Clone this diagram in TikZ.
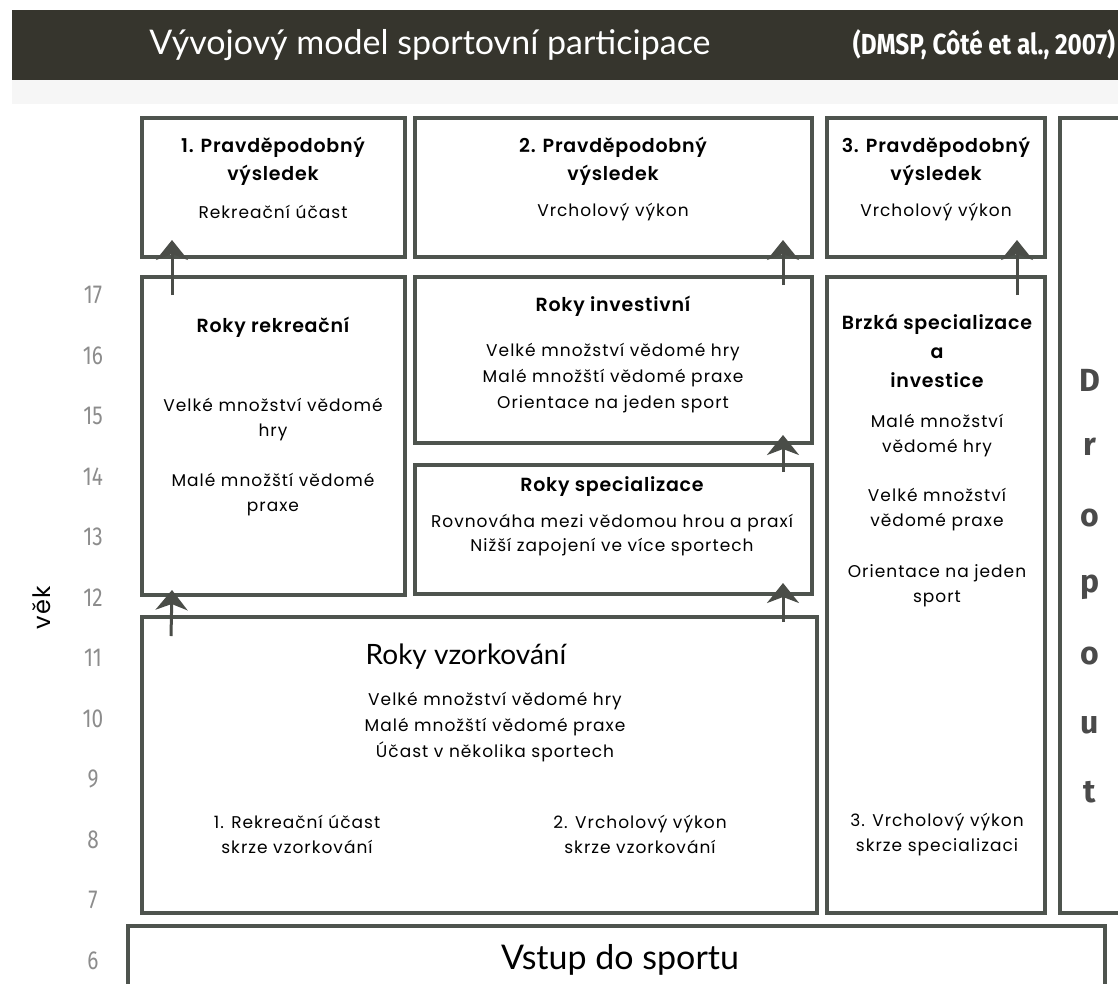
\documentclass[tikz,border=0pt]{standalone}
\usepackage{fontspec}
\setmainfont{Poppins}[LetterSpace=6]
\IfFontExistsTF{Poppins SemiBold}
  {\newfontfamily\pophead{Poppins SemiBold}[LetterSpace=4]}
  {\IfFontExistsTF{Poppins Medium}
     {\newfontfamily\pophead{Poppins Medium}[LetterSpace=5]}
     {\newfontfamily\pophead{Poppins}[LetterSpace=3,UprightFont=*-Bold]}}
\newfontfamily\lat{Lato}
\newfontfamily\fira{Fira Sans}
\usetikzlibrary{arrows.meta}
\definecolor{barc}{HTML}{36352D}
\definecolor{edgec}{HTML}{4E544E}
\definecolor{arrc}{HTML}{4A4D48}
\definecolor{agec}{HTML}{8C8C8C}
\definecolor{dropc}{HTML}{4A4A4A}
\begin{document}
\begin{tikzpicture}[x=1pt,y=-1pt,
  box/.style={draw=edgec,line width=3.5pt,inner sep=0pt,outer sep=0pt,fill=white},
  head/.style={inner sep=0pt,align=center,font=\pophead\fontsize{19}{28}\selectfont},
  body/.style={inner sep=0pt,align=center,font=\fontsize{17}{25}\selectfont},
  thin/.style={inner sep=0pt,align=center,font=\lat\fontsize{28}{34}\selectfont},
  age/.style={inner sep=0pt,text=agec,font=\fira\fontsize{26}{26}\selectfont},
  droptxt/.style={inner sep=0pt,text=dropc,font=\fira\bfseries\fontsize{32}{32}\selectfont},
  arr/.style={draw=arrc,line width=3pt,-{Stealth[length=20pt,width=32pt,inset=6pt]}}]
\useasboundingbox (0,0) rectangle (1118,983);
% header
\fill[gray!7] (12,80) rectangle (1118,104);
\node[fill=barc,inner sep=0pt,outer sep=0pt,minimum width=1110pt,minimum height=70pt] (bar) at (567,45) {};
\node[inner sep=0pt,text=white,font=\lat\fontsize{34}{34}\selectfont] (title) at (430,45) {Vývojový model sportovní participace};
\node[inner sep=0pt,text=white,font=\fira\bfseries\fontsize{29}{29}\selectfont] (cite) at (984,45) {\scalebox{0.84}[1]{(DMSP, Côté et al., 2007)}};
% boxes
\node[box,minimum width=263pt,minimum height=139pt] (r1) at (273.5,187.5) {};
\node[box,minimum width=397pt,minimum height=139pt] (r2) at (613.5,187.5) {};
\node[box,minimum width=218pt,minimum height=139pt] (r3) at (936,187.5) {};
\node[box,minimum width=62pt,minimum height=795pt] (drop) at (1091,515.5) {};
\node[box,minimum width=263pt,minimum height=318pt] (rek) at (273.5,436) {};
\node[box,minimum width=397pt,minimum height=166pt] (inv) at (613.5,360) {};
\node[box,minimum width=397pt,minimum height=129pt] (spe) at (613.5,529.5) {};
\node[box,minimum width=218pt,minimum height=636pt] (brz) at (936,595) {};
\node[box,minimum width=675pt,minimum height=296pt] (vzo) at (479.5,765) {};
\node[box,minimum width=977pt,minimum height=74pt] (vst) at (616.5,963) {};
% texts
\node[head] (r1h) at (273,161) {1. Pravděpodobný\\výsledek};
\node[body] (r1b) at (273,212) {Rekreační účast};
\node[head] (r2h) at (613,161) {2. Pravděpodobný\\výsledek};
\node[body] (r2b) at (613,212) {Vrcholový výkon};
\node[head] (r3h) at (936,161) {3. Pravděpodobný\\výsledek};
\node[body] (r3b) at (936,212) {Vrcholový výkon};
\node[head] (rekh) at (273,327) {Roky rekreační};
\node[body] (rekb1) at (273,419.5) {Velké množství vědomé\\hry};
\node[body] (rekb2) at (273,494.5) {Malé množští vědomé\\praxe};
\node[head] (invh) at (613,306) {Roky investivní};
\node[body,font=\fontsize{17}{26}\selectfont] (invb) at (613,378) {Velké množství vědomé hry\\Malé množští vědomé praxe\\Orientace na jeden sport};
\node[head] (speh) at (612,487) {Roky specializace};
\node[body,font=\fontsize{17}{24}\selectfont] (speb) at (612,535) {Rovnováha mezi vědomou hrou a praxí\\Nižší zapojení ve více sportech};
\node[head,font=\pophead\fontsize{19}{29}\selectfont] (brzh) at (937,351) {Brzká specializace\\a\\investice};
\node[body] (brzb1) at (937,435.5) {Malé množství\\vědomé hry};
\node[body] (brzb2) at (937,510) {Velké množství\\vědomé praxe};
\node[body] (brzb3) at (937,585.5) {Orientace na jeden\\sport};
\node[thin] (vzoh) at (466,657) {Roky vzorkování};
\node[body,font=\fontsize{17}{26}\selectfont] (vzob) at (495,727) {Velké množství vědomé hry\\Malé množští vědomé praxe\\Účast v několika sportech};
\node[body] (vzo1) at (297,834.5) {1. Rekreační účast\\skrze vzorkování};
\node[body] (vzo2) at (640,834.5) {2. Vrcholový výkon\\skrze vzorkování};
\node[body] (brz4) at (937,834.5) {3. Vrcholový výkon\\skrze specializaci};
\node[thin,font=\lat\fontsize{34}{34}\selectfont] (vsth) at (620,960) {Vstup do sportu};
% dropout
\node[droptxt] (dD) at (1090,380) {D};
\node[droptxt] (dr) at (1090,447) {r};
\node[droptxt] (do1) at (1090,518) {o};
\node[droptxt] (dp) at (1090,587) {p};
\node[droptxt] (do2) at (1090,656) {o};
\node[droptxt] (du) at (1090,725) {u};
\node[droptxt] (dt) at (1090,792) {t};
% ages
\foreach \a in {6,...,17}{
  \node[age] (age\a) at (93,{295+(17-\a)*60.5}) {\scalebox{0.8}[1]{\a}};
}
\node[inner sep=0pt,rotate=90,font=\fontsize{24}{24}\selectfont] (vek) at (42,608) {věk};
% arrows
\draw[arr] ([xshift=30pt,yshift=-18pt]rek.north west) -- ([xshift=30pt,yshift=17pt]r1.south west);
\draw[arr] ([xshift=-29pt,yshift=-8pt]inv.north east) -- ([xshift=-29pt,yshift=17pt]r2.south east);
\draw[arr] ([xshift=-28pt,yshift=-18pt]brz.north east) -- ([xshift=-28pt,yshift=17pt]r3.south east);
\draw[arr] ([xshift=-29pt,yshift=-7pt]spe.north east) -- ([xshift=-29pt,yshift=8pt]inv.south east);
\draw[arr] ([xshift=-34pt,yshift=-5pt]vzo.north east) -- ([xshift=-29pt,yshift=11pt]spe.south east);
\draw[arr] ([xshift=29pt,yshift=-19pt]vzo.north west) -- ([xshift=30pt,yshift=5pt]rek.south west);
\end{tikzpicture}
\end{document}
